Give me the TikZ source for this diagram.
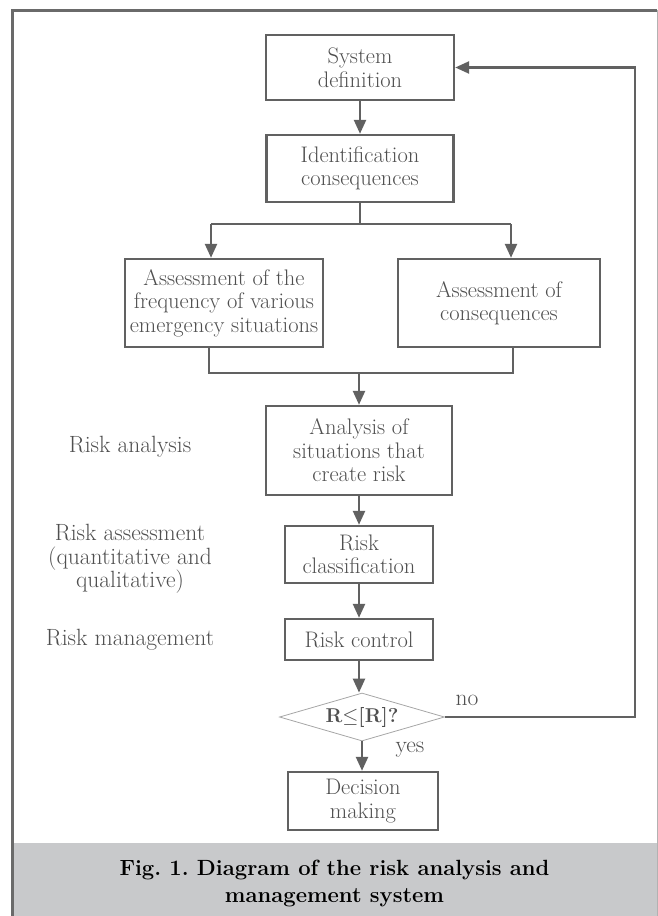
\documentclass[tikz,border=0pt]{standalone}
\usetikzlibrary{arrows.meta,shapes.geometric}
\definecolor{linegray}{HTML}{616161}
\definecolor{textgray}{HTML}{4F4F4F}
\definecolor{bandgray}{HTML}{C8C9CB}
\definecolor{framegray}{HTML}{6A6A6A}
\begin{document}
\begin{tikzpicture}[x=1pt,y=-1pt,
    box/.style={draw=linegray, line width=2.4pt, text=textgray, align=center, inner sep=0pt, font=\fontsize{22.5}{23.5}\selectfont},
    side/.style={text=textgray, align=center, font=\fontsize{23.5}{23.5}\selectfont},
    conn/.style={draw=linegray, line width=2.4pt},
    arr/.style={conn, -{Triangle[length=14pt,width=12pt]}}]
  \useasboundingbox (0,0) rectangle (658,916);
  % frame and caption band
  \fill[bandgray] (12,843) rectangle (657,916);
  \draw[framegray, line width=3pt] (12,916) -- (12,10) -- (657,10);
  \draw[gray!60, line width=1pt] (657,10) -- (657,916);

  \node[box, minimum width=188, minimum height=65] (sysdef) at (360,67.5) {System\\definition};
  \node[box, minimum width=187, minimum height=67] (ident) at (360,168.5) {Identification\\consequences};
  \node[box, minimum width=198, minimum height=88] (freq) at (224,303) {Assessment of the\\frequency of various\\emergency situations};
  \node[box, minimum width=202, minimum height=88] (cons) at (499,303) {Assessment of\\consequences};
  \node[box, minimum width=186, minimum height=89] (anal) at (359,450.5) {Analysis of\\situations that\\create risk};
  \node[box, minimum width=148, minimum height=57] (cls) at (359,554.5) {Risk\\classification};
  \node[box, minimum width=148, minimum height=41] (ctrl) at (359,639.5) {Risk control};
  \node[diamond, aspect=3.4, draw=gray!70, line width=0.8pt, inner sep=0pt, minimum width=165, minimum height=48, text=textgray, font=\fontsize{20}{21}\selectfont\bfseries] (dia) at (362,717) {R$\leq$[R]?};
  \node[box, minimum width=150, minimum height=58] (dec) at (363,801) {Decision\\making};

  % side labels
  \node[side] (lanal) at (130,447) {Risk analysis};
  \node[side] (lass) at (130,559) {Risk assessment\\(quantitative and\\qualitative)};
  \node[side] (lman) at (130,640) {Risk management};
  \node[side] (no) at (467,700) {no};
  \node[side] (yes) at (410,750) {yes};

  \node[font=\fontsize{22}{27}\selectfont\bfseries\frenchspacing, align=center] (cap) at (334.5,883.5) {Fig. 1. Diagram of the risk analysis and\\management system};

  % connectors
  \coordinate (splitL) at (211,224);
  \coordinate (splitR) at (511,224);
  \coordinate (mergeL) at (209,373);
  \coordinate (mergeR) at (513,373);
  \coordinate (loopB) at (635,717);
  \draw[arr] (sysdef) -- (ident);
  \draw[conn] (ident.south) -- (ident.south |- splitL);
  \draw[conn] (splitL) -- (splitR);
  \draw[arr] (splitL) -- (splitL |- freq.north);
  \draw[arr] (splitR) -- (splitR |- cons.north);
  \draw[conn] (mergeL |- freq.south) -- (mergeL) -- (mergeR) -- (mergeR |- cons.south);
  \draw[arr] (mergeL -| anal.north) -- (anal.north);
  \draw[arr] (anal) -- (cls);
  \draw[arr] (cls) -- (ctrl);
  \draw[arr] (ctrl.south) -- (ctrl.south |- dia.north);
  \draw[arr] (dia.south) -- (dia.south |- dec.north);
  \draw[arr] (dia.east) -- (loopB) -- (loopB |- sysdef.east) -- (sysdef.east);
\end{tikzpicture}
\end{document}
